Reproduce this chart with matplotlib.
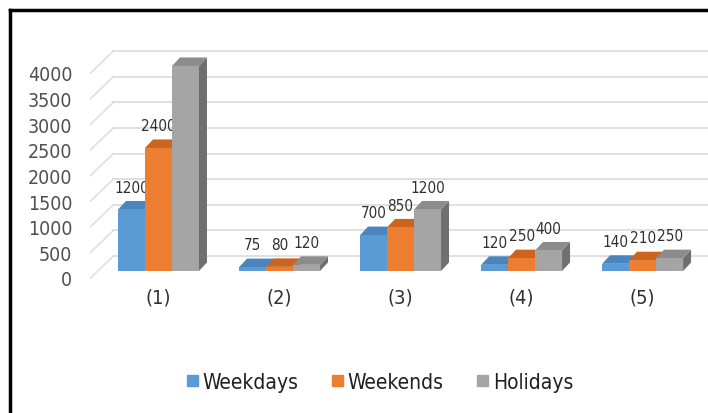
import matplotlib.pyplot as plt
from matplotlib.patches import Polygon, Patch
from matplotlib.lines import Line2D

# data
categories = ['(1)', '(2)', '(3)', '(4)', '(5)']
weekdays = [1200, 75, 700, 120, 140]
weekends = [2400, 80, 850, 250, 210]
holidays = [4000, 120, 1200, 400, 250]
series_names = ['Weekdays', 'Weekends', 'Holidays']
y_ticks = [0, 500, 1000, 1500, 2000, 2500, 3000, 3500, 4000]

front_cols = ['#5B9BD5', '#ED7D31', '#A5A5A5']
top_cols = ['#4A85BE', '#C9651F', '#8C8C8C']
side_cols = ['#3C6E9E', '#A9521A', '#6F6F6F']

plt.rcParams['font.family'] = ['DejaVu Sans']
plt.rcParams['font.stretch'] = 'condensed'

fig = plt.figure(figsize=(7.08, 4.14), dpi=100)
ax = fig.add_axes([0.1278, 0.3261, 0.8547, 0.4952])
ax.set_xlim(-0.5, 4.5)
ax.set_ylim(0, 4000)

# pseudo 3D offsets (data units)
bw = 0.223
off_x, off_y = 0.062, 137      # bar front relative to front plane
dep_x, dep_y = 0.066, 166      # bar depth
wall_x, wall_y = 0.19, 429     # back wall depth
grid_c = '#DDDDDD'

# back wall gridlines + left wall diagonals
for v in y_ticks:
    ax.plot([-0.5 + wall_x, 4.5 + wall_x], [v + wall_y, v + wall_y],
            color=grid_c, lw=1.3, clip_on=False, zorder=1)
    ax.plot([-0.5, -0.5 + wall_x], [v, v + wall_y],
            color=grid_c, lw=1.1, clip_on=False, zorder=1)

all_series = [weekdays, weekends, holidays]
for i in range(len(categories)):
    for j, vals in enumerate(all_series):
        v = vals[i]
        x0 = i + off_x + (j - 1.5) * bw
        x1 = x0 + bw
        y0 = off_y
        y1 = off_y + v
        side = Polygon([(x1, y0), (x1 + dep_x, y0 + dep_y), (x1 + dep_x, y1 + dep_y), (x1, y1)],
                       closed=True, fc=side_cols[j], ec='none', clip_on=False, zorder=3)
        top = Polygon([(x0, y1), (x0 + dep_x, y1 + dep_y), (x1 + dep_x, y1 + dep_y), (x1, y1)],
                      closed=True, fc=top_cols[j], ec='none', clip_on=False, zorder=3)
        ax.add_patch(side)
        ax.add_patch(top)
        ax.bar(x0, v, width=bw, bottom=y0, align='edge', color=front_cols[j],
               clip_on=False, zorder=3)
        ax.annotate(str(v), (x0 + bw / 2, y1), xytext=(0, 16), textcoords='offset points',
                    ha='center', va='center', fontsize=11, color='#303030')
    ax.annotate(categories[i], (i + off_x, 0), xytext=(0, -14), textcoords='offset points',
                ha='center', va='center', fontsize=14.5, color='#303030',
                annotation_clip=False)

ax.set_yticks(y_ticks)
ax.set_yticklabels([str(t) for t in y_ticks], fontsize=14, color='#505050')
ax.tick_params(axis='y', length=0, pad=13)
ax.set_xticks([])
for s in ax.spines.values():
    s.set_visible(False)

handles = [Patch(color=c) for c in front_cols]
fig.legend(handles, series_names, loc='center', bbox_to_anchor=(0.537, 0.075), ncol=3,
           frameon=False, fontsize=15, handlelength=0.5, handleheight=0.5,
           handletextpad=0.25, columnspacing=1.6, labelcolor='#202020')

# black frame on the top and left edges
fig.add_artist(Line2D([10 / 708, 10 / 708], [0, 1 - 11 / 414], color='black', lw=2.5,
                      transform=fig.transFigure))
fig.add_artist(Line2D([10 / 708, 1], [1 - 11 / 414, 1 - 11 / 414], color='black', lw=2.5,
                      transform=fig.transFigure))

fig.savefig('out.png', dpi=100)
